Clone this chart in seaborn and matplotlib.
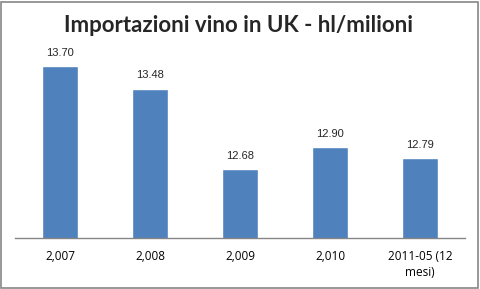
import matplotlib
matplotlib.use("Agg")
import matplotlib.pyplot as plt
import matplotlib.transforms as mtrans
import seaborn as sns
import pandas as pd
from matplotlib.patches import Rectangle

categories = ["2,007", "2,008", "2,009", "2,010", "2011-05 (12\nmesi)"]
values = [13.70, 13.48, 12.68, 12.90, 12.79]
labels = ["13.70", "13.48", "12.68", "12.90", "12.79"]
title = "Importazioni vino in UK - hl/milioni"

sns.set_style("white")
plt.rcParams['font.family'] = ['Lato', 'DejaVu Sans']

df = pd.DataFrame({"cat": categories, "val": values})

fig = plt.figure(figsize=(4.81, 2.89), dpi=100)
ax = fig.add_axes([15/481, 51/289, 450/481, 202/289])
sns.barplot(data=df, x="cat", y="val", color="#4F81BD", width=0.4,
            saturation=1, ax=ax)
ax.set_ylim(12, 14)
ax.set_xlim(-0.5, 4.5)
ax.set_xlabel("")
ax.set_ylabel("")
ax.set_yticks([])
for s in ["top", "left", "right"]:
    ax.spines[s].set_visible(False)
ax.spines["bottom"].set_color("#868686")
ax.spines["bottom"].set_linewidth(1)
ax.tick_params(axis="x", length=0, labelbottom=False)

trans = mtrans.blended_transform_factory(ax.transData, ax.transAxes)
for i, c in enumerate(categories):
    for j, line in enumerate(c.split("\n")):
        off = mtrans.ScaledTranslation(0, -(18 + 17 * j) / 100,
                                       fig.dpi_scale_trans)
        ax.text(i, 0, line, transform=trans + off, ha="center",
                va="center", fontsize=8.5, color="black",
                family=["Open Sans", "DejaVu Sans"])

for i, (v, t) in enumerate(zip(values, labels)):
    ax.annotate(t, (i, v), xytext=(0, 6), textcoords="offset points",
                ha="center", va="bottom", fontsize=8,
                family=["Liberation Sans", "DejaVu Sans"])

fig.text(0.496, 1 - 26/289, title, ha="center", va="center",
         fontsize=16, fontweight="bold")

fig.patches.append(Rectangle((1/481, 1/289), 477/481, 286/289,
                             transform=fig.transFigure, fill=False,
                             edgecolor="#868686", linewidth=1.2))

fig.savefig("out.png", dpi=100)
